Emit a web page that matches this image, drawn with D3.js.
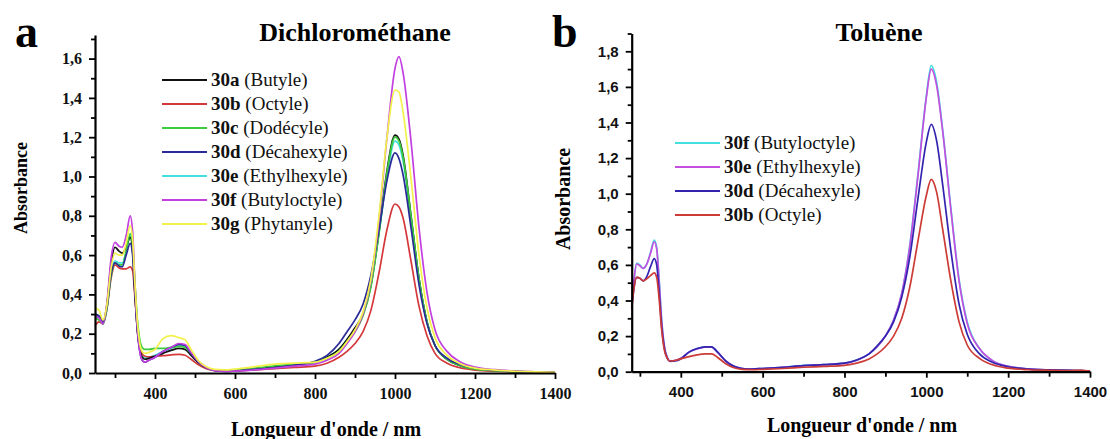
<!DOCTYPE html>
<html>
<head>
<meta charset="utf-8">
<script src="https://cdn.jsdelivr.net/npm/d3@7"></script>
<style>
  html, body { margin: 0; padding: 0; background: #fff; }
  svg { display: block; }
</style>
</head>
<body>
<svg id="chart" width="1110" height="439"></svg>
<script>
// ---------------- DATA ----------------
// Panel a : Dichlorométhane
const wlDCM = [250,260,270,280,290,300,310,318,328,338,344,350,356,362,368,375,385,400,420,440,460,475,490,510,530,550,575,600,650,700,750,800,830,860,880,900,920,940,960,980,1000,1010,1020,1040,1060,1080,1100,1130,1160,1200,1250,1300,1350,1400];
const dcm30a = [0.30,0.29,0.26,0.35,0.55,0.64,0.62,0.61,0.64,0.69,0.62,0.40,0.22,0.12,0.08,0.07,0.075,0.085,0.10,0.115,0.125,0.12,0.09,0.05,0.025,0.015,0.012,0.014,0.022,0.032,0.042,0.055,0.08,0.12,0.17,0.23,0.30,0.45,0.72,1.03,1.21,1.19,1.11,0.80,0.48,0.26,0.14,0.07,0.04,0.022,0.013,0.008,0.005,0.003];
const dcm30b = [0.24,0.26,0.25,0.33,0.48,0.55,0.535,0.53,0.53,0.54,0.52,0.38,0.22,0.13,0.095,0.085,0.082,0.085,0.088,0.092,0.095,0.09,0.07,0.04,0.02,0.012,0.01,0.011,0.016,0.022,0.028,0.035,0.05,0.08,0.11,0.15,0.21,0.32,0.51,0.73,0.86,0.845,0.79,0.57,0.34,0.19,0.10,0.05,0.028,0.015,0.009,0.006,0.004,0.002];
const dcm30c = [0.28,0.27,0.25,0.33,0.49,0.56,0.55,0.55,0.62,0.71,0.65,0.45,0.27,0.17,0.13,0.12,0.12,0.125,0.125,0.13,0.135,0.13,0.10,0.055,0.025,0.014,0.012,0.014,0.024,0.036,0.045,0.055,0.075,0.11,0.16,0.21,0.29,0.44,0.71,1.02,1.20,1.18,1.10,0.80,0.48,0.26,0.14,0.07,0.04,0.02,0.012,0.007,0.004,0.002];
const dcm30d = [0.30,0.29,0.26,0.34,0.50,0.56,0.545,0.54,0.60,0.66,0.60,0.40,0.21,0.11,0.065,0.055,0.065,0.08,0.11,0.13,0.145,0.14,0.10,0.055,0.025,0.012,0.008,0.01,0.018,0.028,0.04,0.06,0.09,0.15,0.21,0.27,0.35,0.50,0.73,0.98,1.12,1.09,1.01,0.74,0.45,0.25,0.14,0.075,0.045,0.025,0.014,0.009,0.006,0.004];
const dcm30e = [0.29,0.28,0.25,0.33,0.51,0.57,0.56,0.56,0.62,0.70,0.64,0.44,0.25,0.14,0.09,0.075,0.08,0.09,0.11,0.125,0.14,0.135,0.10,0.055,0.025,0.013,0.01,0.012,0.02,0.03,0.042,0.055,0.08,0.12,0.17,0.22,0.30,0.45,0.71,1.00,1.18,1.16,1.08,0.79,0.48,0.26,0.14,0.07,0.04,0.02,0.012,0.007,0.004,0.002];
const dcm30f = [0.29,0.28,0.25,0.36,0.58,0.665,0.645,0.64,0.70,0.80,0.72,0.45,0.23,0.11,0.065,0.055,0.065,0.08,0.11,0.13,0.15,0.145,0.105,0.055,0.025,0.012,0.008,0.01,0.016,0.025,0.035,0.045,0.065,0.10,0.15,0.21,0.30,0.47,0.78,1.20,1.55,1.61,1.53,1.18,0.74,0.41,0.22,0.11,0.06,0.03,0.017,0.01,0.006,0.003];
const dcm30g = [0.33,0.32,0.27,0.35,0.53,0.61,0.60,0.60,0.66,0.75,0.68,0.45,0.26,0.15,0.11,0.10,0.105,0.12,0.175,0.19,0.18,0.17,0.12,0.06,0.03,0.018,0.016,0.02,0.032,0.045,0.05,0.055,0.075,0.11,0.16,0.22,0.31,0.48,0.80,1.20,1.44,1.43,1.33,0.99,0.60,0.33,0.18,0.09,0.05,0.025,0.015,0.009,0.006,0.003];

// Panel b : Toluène
const wlTol = [280,285,292,300,308,316,326,335,341,347,353,360,367,374,385,400,420,440,460,475,490,510,530,550,575,600,650,700,750,800,830,860,880,900,920,940,960,980,1000,1012,1025,1040,1060,1080,1100,1130,1160,1200,1250,1300,1350,1380,1400];
const tol30f = [0.38,0.50,0.61,0.60,0.58,0.60,0.67,0.74,0.70,0.52,0.30,0.14,0.08,0.06,0.062,0.075,0.11,0.13,0.14,0.14,0.11,0.06,0.03,0.018,0.015,0.018,0.025,0.035,0.04,0.048,0.065,0.10,0.14,0.20,0.29,0.44,0.72,1.12,1.55,1.72,1.63,1.36,0.92,0.52,0.28,0.13,0.065,0.03,0.016,0.01,0.007,0.006,0.004];
const tol30e = [0.37,0.50,0.605,0.595,0.58,0.60,0.665,0.73,0.69,0.51,0.29,0.14,0.08,0.06,0.062,0.075,0.11,0.128,0.138,0.138,0.108,0.06,0.03,0.018,0.015,0.018,0.025,0.034,0.04,0.047,0.064,0.10,0.14,0.20,0.29,0.44,0.71,1.11,1.54,1.70,1.61,1.35,0.91,0.51,0.27,0.13,0.065,0.03,0.016,0.01,0.007,0.006,0.004];
const tol30d = [0.36,0.46,0.53,0.525,0.51,0.53,0.59,0.635,0.60,0.45,0.26,0.13,0.075,0.058,0.06,0.072,0.11,0.13,0.14,0.14,0.11,0.06,0.03,0.018,0.015,0.018,0.025,0.034,0.04,0.048,0.066,0.10,0.145,0.20,0.28,0.42,0.65,0.98,1.29,1.39,1.30,1.05,0.68,0.38,0.21,0.10,0.055,0.028,0.015,0.01,0.007,0.006,0.004];
const tol30b = [0.35,0.46,0.53,0.525,0.51,0.52,0.54,0.555,0.53,0.41,0.24,0.12,0.075,0.06,0.063,0.072,0.085,0.095,0.10,0.10,0.08,0.045,0.022,0.013,0.011,0.013,0.018,0.025,0.03,0.036,0.048,0.072,0.10,0.14,0.20,0.30,0.48,0.74,0.99,1.08,1.01,0.80,0.51,0.28,0.15,0.075,0.04,0.02,0.011,0.008,0.006,0.008,0.004];

const xTickValues = [400,600,800,1000,1200,1400];
const yTicksDCM = [0,0.2,0.4,0.6,0.8,1.0,1.2,1.4,1.6];
const yTicksTol = [0,0.2,0.4,0.6,0.8,1.0,1.2,1.4,1.6,1.8];

const dcmCodes = ["30a","30b","30c","30d","30e","30f","30g"];
const dcmNames = ["(Butyle)","(Octyle)","(Dodécyle)","(Décahexyle)","(Ethylhexyle)","(Butyloctyle)","(Phytanyle)"];
const dcmColors = ["#111111","#d4383a","#3ccc3c","#2a2a98","#44e0e0","#c23fe0","#f2f24a"];
const dcmSeries = [dcm30a,dcm30b,dcm30c,dcm30d,dcm30e,dcm30f,dcm30g];
const dcmDrawOrder = [4,1,0,2,3,5,6];

const tolCodes = ["30f","30e","30d","30b"];
const tolNames = ["(Butyloctyle)","(Ethylhexyle)","(Décahexyle)","(Octyle)"];
const tolColors = ["#44e0e0","#c44ee0","#3324b0","#cc3b35"];
const tolSeries = [tol30f,tol30e,tol30d,tol30b];

// ---------------- DRAW ----------------
const SERIF = '"Liberation Serif", "Times New Roman", serif';
const SANS = '"Liberation Sans", Arial, sans-serif';
const svg = d3.select("#chart");
const fmtY = v => d3.format(".1f")(v).replace(".", ",");
const fmtX = d3.format("d");

function panel(cfg) {
  const g = svg.append("g");
  const x = d3.scaleLinear().domain(cfg.xDomain).range(cfg.xRange);
  const y = d3.scaleLinear().domain(cfg.yDomain).range(cfg.yRange);

  // curves
  const line = d3.line().x(d => x(d[0])).y(d => y(d[1])).curve(d3.curveMonotoneX);
  cfg.order.forEach(i => {
    const pts = cfg.wl.map((w, k) => [w, cfg.series[i][k]]);
    g.append("path").attr("d", line(pts)).attr("fill", "none")
      .attr("stroke", cfg.colors[i]).attr("stroke-width", 1.7)
      .attr("stroke-linejoin", "round");
  });

  // minor ticks
  const xMinor = d3.range(300, 1401, 200).filter(v => v >= cfg.xDomain[0]);
  const yMinor = d3.range(1, Math.round(cfg.yDomain[1] * 10) + 1, 2).map(v => v / 10);
  g.append("g").attr("transform", `translate(0,${cfg.yRange[0]})`)
    .call(d3.axisBottom(x).tickValues(xMinor).tickSize(5).tickFormat(""))
    .call(s => s.select(".domain").remove())
    .selectAll("line").attr("stroke", "#000").attr("stroke-width", 1.8);
  g.append("g").attr("transform", `translate(${cfg.xRange[0]},0)`)
    .call(d3.axisLeft(y).tickValues(yMinor).tickSize(4).tickFormat(""))
    .call(s => s.select(".domain").remove())
    .selectAll("line").attr("stroke", "#000").attr("stroke-width", 1.8);

  // major axes
  const xa = g.append("g").attr("transform", `translate(0,${cfg.yRange[0]})`)
    .call(d3.axisBottom(x).tickValues(xTickValues).tickSize(6).tickSizeOuter(0)
      .tickPadding(cfg.xPad).tickFormat(fmtX));
  const ya = g.append("g").attr("transform", `translate(${cfg.xRange[0]},0)`)
    .call(d3.axisLeft(y).tickValues(cfg.yTicks).tickSize(6).tickSizeOuter(0)
      .tickPadding(7).tickFormat(fmtY));
  [xa, ya].forEach(a => {
    a.attr("font-family", cfg.tickFont).attr("font-size", cfg.tickSize);
    a.select(".domain").attr("stroke", "#000").attr("stroke-width", 2.2);
    a.selectAll(".tick line").attr("stroke", "#000").attr("stroke-width", 1.8);
    a.selectAll("text").style("font-family", cfg.tickFont).style("font-size", cfg.tickSize + "px")
      .style("font-weight", "bold").attr("fill", "#111");
  });

  // titles
  svg.append("text").style("font-family", SERIF).attr("x", cfg.titleX).attr("y", 41)
    .attr("text-anchor", "middle").style("font-size", "26px").style("font-weight", "bold")
    .text(cfg.title);
  svg.append("text").style("font-family", SERIF).attr("x", cfg.letterX).attr("y", 47)
    .style("font-size", "46px").style("font-weight", "bold").text(cfg.letter);
  svg.append("text").style("font-family", SERIF).attr("x", cfg.xTitleX).attr("y", cfg.xTitleY)
    .attr("text-anchor", "middle").style("font-size", "20px").style("font-weight", "bold")
    .text("Longueur d'onde / nm");
  svg.append("text").style("font-family", SERIF)
    .attr("transform", `translate(${cfg.yTitleX},${cfg.yTitleY}) rotate(-90)`)
    .attr("text-anchor", "middle").attr("dominant-baseline", "central")
    .style("font-size", cfg.yTitleSize + "px").style("font-weight", "bold").text("Absorbance");

  // legend
  const lg = svg.append("g");
  cfg.codes.forEach((c, i) => {
    const yy = cfg.legY + i * 24;
    lg.append("line").attr("x1", cfg.legX).attr("x2", cfg.legX + 45)
      .attr("y1", yy).attr("y2", yy).attr("stroke", cfg.colors[i]).attr("stroke-width", 2);
    const t = lg.append("text").style("font-family", SERIF).attr("x", cfg.legX + 49).attr("y", yy + 6)
      .style("font-size", "19px").attr("fill", "#111");
    t.append("tspan").style("font-weight", "bold").text(c);
    t.append("tspan").text(" " + cfg.names[i]);
  });
}

panel({
  wl: wlDCM, series: dcmSeries, colors: dcmColors, order: dcmDrawOrder,
  codes: dcmCodes, names: dcmNames,
  xDomain: [250, 1400], xRange: [95, 555],
  yDomain: [0, 1.72], yRange: [373, 35], yTicks: yTicksDCM,
  tickFont: SERIF, tickSize: 16, xPad: 9,
  title: "Dichlorométhane", titleX: 355, letter: "a", letterX: 15,
  xTitleX: 326, xTitleY: 436, yTitleX: 21, yTitleY: 188, yTitleSize: 18,
  legX: 162, legY: 80
});

panel({
  wl: wlTol, series: tolSeries, colors: tolColors, order: [0,1,2,3],
  codes: tolCodes, names: tolNames,
  xDomain: [280, 1400], xRange: [631.7, 1090],
  yDomain: [0, 1.9], yRange: [371.7, 33.5], yTicks: yTicksTol,
  tickFont: SANS, tickSize: 15, xPad: 9,
  title: "Toluène", titleX: 879, letter: "b", letterX: 552,
  xTitleX: 862, xTitleY: 432, yTitleX: 563, yTitleY: 199, yTitleSize: 20,
  legX: 675, legY: 143
});
</script>
</body>
</html>
